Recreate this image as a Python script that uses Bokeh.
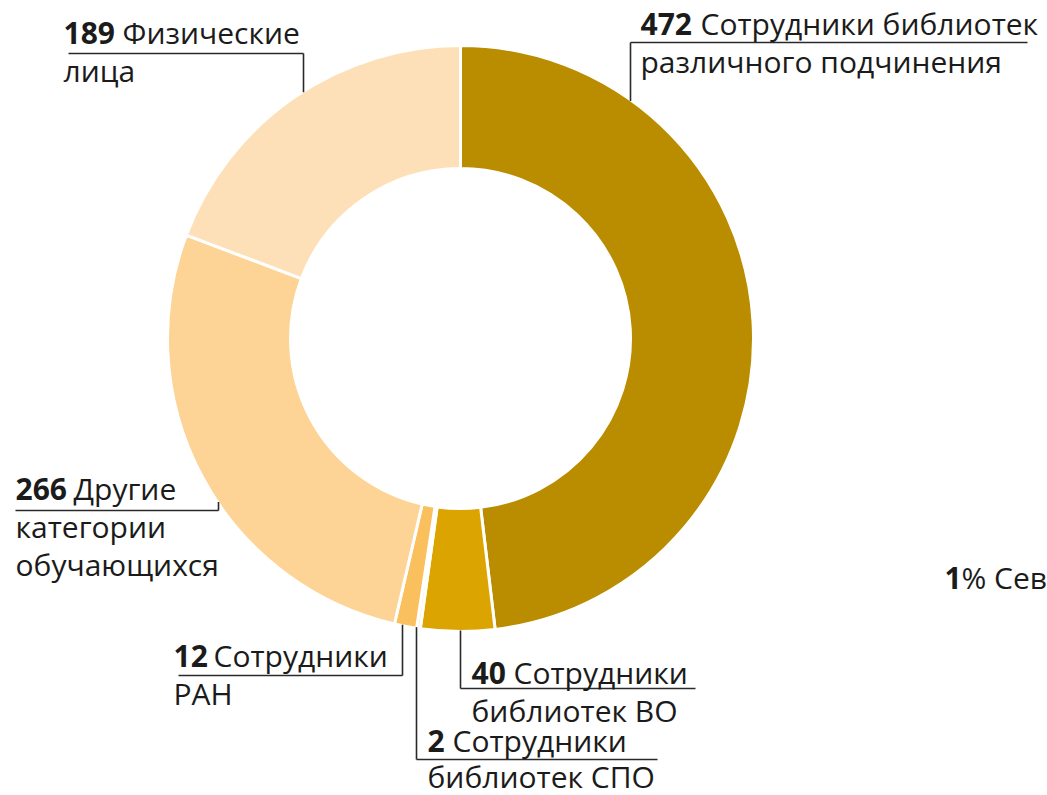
import math
from bokeh.plotting import figure
from bokeh.models import Range1d, ColumnDataSource
from bokeh.core.properties import value
from bokeh.embed import file_html
from bokeh.resources import INLINE

# ---- data ----
values = [472, 40, 2, 12, 266, 189]
numbers = ["472", "40", "2", "12", "266", "189"]
label_lines = [
    ["Сотрудники библиотек", "различного подчинения"],
    ["Сотрудники", "библиотек ВО"],
    ["Сотрудники", "библиотек СПО"],
    ["Сотрудники", "РАН"],
    ["Другие", "категории", "обучающихся"],
    ["Физические", "лица"],
]
colors = ["#BA8C00", "#DBA400", "#FCE6AA", "#FBC05E", "#FDD496", "#FEE0B8"]
extra_bold = "1"
extra_text = "% Сев"

# ---- layout (screen pixel coordinates of the reference) ----
CX, CY, R_OUT, R_IN = 460, 338, 292, 170
FONT = value("Open Sans")
FS = "30px"
LINE_H = 38
SHIFT = 10  # correction between requested and rendered baseline
TXT = "#1b1b1b"
# per label: number x, first baseline, text x, leader: (hline y, hx0, hx1, vline x), line gap
layout = [
    dict(nx=640, by=33, tx=700, hy=42, hx0=630, hx1=1027, vx=630, lh=LINE_H),
    dict(nx=471, by=682, tx=513, hy=688, hx0=460, hx1=695, vx=460, lh=LINE_H),
    dict(nx=427, by=750, tx=452, hy=759, hx0=416, hx1=657, vx=416, lh=36),
    dict(nx=173, by=665, tx=213, hy=675, hx0=178, hx1=402, vx=402, lh=LINE_H),
    dict(nx=15, by=498, tx=73, hy=510, hx0=15, hx1=218, vx=218, lh=LINE_H),
    dict(nx=63, by=42, tx=122, hy=53, hx0=68, hx1=303, vx=303, lh=LINE_H),
]

W, H = 1047, 795
p = figure(width=W, height=H, output_backend="svg", toolbar_location=None,
           x_range=Range1d(0, W), y_range=Range1d(-H, 0),
           min_border=0, outline_line_color=None, background_fill_color="white")
p.axis.visible = False
p.grid.visible = False

# donut
total = float(sum(values))
starts, ends = [], []
cum = 0.0
for v in values:
    starts.append(math.pi / 2 - 2 * math.pi * cum / total)
    cum += v
    ends.append(math.pi / 2 - 2 * math.pi * cum / total)
src = ColumnDataSource(dict(start=starts, end=ends, color=colors,
                            x=[CX] * len(values), y=[-CY] * len(values)))
p.annular_wedge(x="x", y="y", inner_radius=R_IN, outer_radius=R_OUT + 1,
                start_angle="start", end_angle="end", direction="clock",
                fill_color="color", line_color="white", line_width=3, source=src)

# leaders
for L in layout:
    dx = L["vx"] - CX
    dy = math.sqrt(max(R_OUT ** 2 - dx ** 2, 0))
    circ_y = CY - dy if L["hy"] < CY else CY + dy
    p.line([L["hx0"], L["hx1"]], [-L["hy"], -L["hy"]], line_color="#2a2a2a", line_width=1.6)
    p.line([L["vx"], L["vx"]], [-L["hy"], -circ_y], line_color="#2a2a2a", line_width=1.6)

def txt(x, y, s, bold=False):
    p.text(x=[x], y=[-(y - SHIFT)], text=[s], text_font=FONT, text_font_size=FS,
           text_font_style="bold" if bold else "normal", text_color=TXT,
           text_baseline="alphabetic", text_align="left")

# labels
for num, lines, L in zip(numbers, label_lines, layout):
    txt(L["nx"], L["by"], num, bold=True)
    txt(L["tx"], L["by"], lines[0])
    for i, ln in enumerate(lines[1:], start=1):
        txt(L["nx"], L["by"] + L["lh"] * i, ln)

txt(944, 587, extra_bold, bold=True)
txt(961, 587, extra_text)

open("out.html", "w").write(file_html(p, INLINE))
